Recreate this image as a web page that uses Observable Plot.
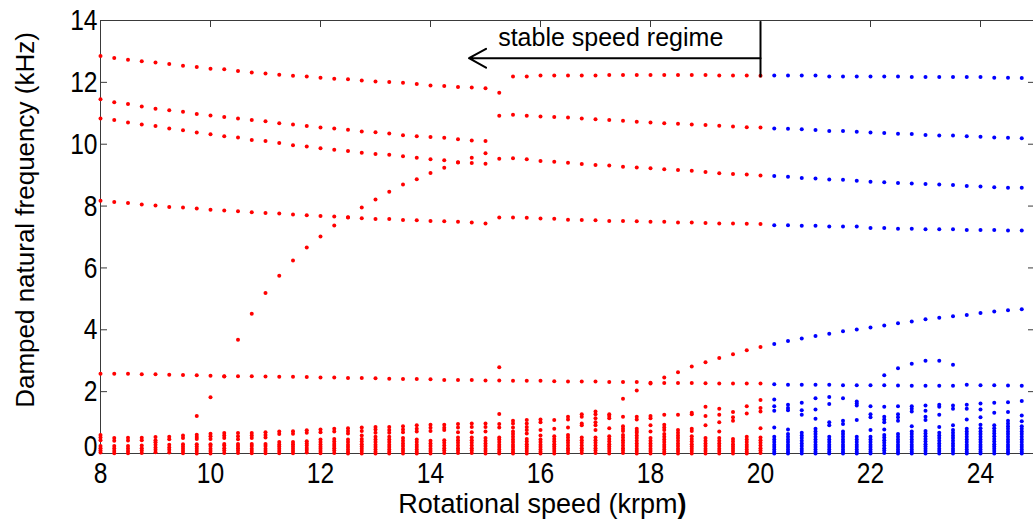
<!DOCTYPE html>
<html>
<head>
<meta charset="utf-8">
<script src="https://cdn.jsdelivr.net/npm/d3@7"></script>
<script src="https://cdn.jsdelivr.net/npm/@observablehq/plot@0.6"></script>
<style>
  html, body { margin: 0; padding: 0; background: #fff; overflow: hidden; }
  svg { display: block; }
</style>
</head>
<body>
<div id="chart"></div>
<script>
// Rotational speeds (krpm) at which the eigenvalues were computed
const speeds = [8,8.25,8.5,8.75,9,9.25,9.5,9.75,10,10.25,10.5,10.75,11,11.25,11.5,11.75,12,12.25,12.5,12.75,13,13.25,13.5,13.75,14,14.25,14.5,14.75,15,15.25,15.5,15.75,16,16.25,16.5,16.75,17,17.25,17.5,17.75,18,18.25,18.5,18.75,19,19.25,19.5,19.75,20,20.25,20.5,20.75,21,21.25,21.5,21.75,22,22.25,22.5,22.75,23,23.25,23.5,23.75,24,24.25,24.5,24.75];

// Damped natural frequencies (kHz), one value per speed
const mode1 = [12.85,12.79,12.73,12.68,12.64,12.59,12.54,12.50,12.44,12.42,12.37,12.32,12.29,12.25,12.21,12.19,12.15,12.12,12.10,12.06,12.03,12.01,11.99,11.95,11.90,11.88,11.85,11.83,11.81,11.66,
  12.19,12.19,12.22,12.22,12.22,12.22,12.22,12.24,12.24,12.24,12.24,12.24,12.24,12.24,12.24,12.22,12.22,12.22,12.21,
  12.22,12.22,12.22,12.22,12.19,12.19,12.19,12.19,12.19,12.19,12.17,12.17,12.17,12.17,12.17,12.17,12.15,12.15,12.14];
const mode2 = [11.45,11.36,11.30,11.22,11.15,11.10,11.05,10.98,10.93,10.88,10.83,10.78,10.74,10.68,10.64,10.59,10.54,10.51,10.47,10.41,10.39,10.35,10.29,10.26,10.23,10.21,10.16,10.12,10.10,
  10.92,10.95,10.92,10.90,10.88,10.86,10.83,10.81,10.78,10.76,10.73,10.70,10.68,10.66,10.64,10.62,10.60,10.57,10.55,10.54,
  10.51,10.50,10.48,10.46,10.43,10.43,10.40,10.38,10.36,10.34,10.33,10.30,10.28,10.28,10.26,10.24,10.22,10.21,10.19];
const mode3 = [10.83,10.78,10.70,10.64,10.59,10.51,10.45,10.38,10.32,10.26,10.22,10.14,10.10,10.04,9.97,9.93,9.87,9.82,9.78,9.72,9.68,9.66,9.61,9.56,9.51,9.48,9.41,9.39,9.37,
  9.53,9.55,9.51,9.46,9.43,9.40,9.36,9.33,9.31,9.27,9.25,9.22,9.19,9.17,9.14,9.10,9.06,9.04,9.02,8.99,
  8.97,8.95,8.91,8.89,8.86,8.85,8.82,8.79,8.77,8.75,8.73,8.71,8.70,8.68,8.65,8.63,8.61,8.59,8.59];
const mode4 = [8.17,8.13,8.10,8.05,8.02,7.97,7.95,7.92,7.88,7.86,7.83,7.80,7.78,7.76,7.73,7.70,7.68,7.66,7.64,7.61,7.58,7.58,7.55,7.54,7.52,7.51,7.49,7.47,7.44,
  7.63,7.63,7.62,7.60,7.59,7.56,7.55,7.54,7.52,7.52,7.51,7.49,7.49,7.47,7.47,7.45,7.44,7.44,7.43,7.42,
  7.38,7.38,7.36,7.36,7.34,7.34,7.34,7.29,7.29,7.27,7.27,7.25,7.25,7.25,7.23,7.23,7.23,7.21,7.21];
const mode6 = [2.58,2.58,2.58,2.56,2.56,2.55,2.54,2.53,2.51,2.50,2.50,2.50,2.49,2.48,2.48,2.47,2.46,2.46,2.44,2.44,2.43,2.42,2.41,2.41,2.40,2.38,2.38,2.38,2.36,
  2.36,2.35,2.35,2.35,2.34,2.33,2.33,2.33,2.31,2.31,2.31,2.29,2.28,2.28,2.28,2.27,2.26,2.26,2.26,2.26,
  2.24,2.22,2.22,2.22,2.22,2.21,2.21,2.21,2.21,2.20,2.19,2.19,2.19,2.19,2.22,2.21,2.21,2.20,2.19];

// Partial branches with their own speeds
const mode5Speeds = [9.75,10,10.25,10.5,10.75,11,11.25,11.5,11.75,12,12.25,12.5,12.75,13,13.25,13.5,13.75,14,14.25,14.5,14.75,15];
const mode5 = [1.21,1.82,2.49,3.68,4.52,5.19,5.75,6.24,6.66,7.02,7.37,7.63,7.95,8.21,8.46,8.70,8.87,9.07,9.24,9.42,9.56,9.71];
const mode7Speeds = [17.5,17.75,18,18.25,18.5,18.75,19,19.25,19.5,19.75,20,20.25,20.5,20.75,21,21.25,21.5,21.75,22,22.25,22.5,22.75,23,23.25,23.5,23.75,24,24.25,24.5,24.75];
const mode7 = [1.77,2.04,2.26,2.46,2.63,2.81,2.95,3.09,3.21,3.34,3.44,3.54,3.64,3.72,3.80,3.87,3.95,4.01,4.07,4.14,4.21,4.27,4.34,4.39,4.44,4.48,4.54,4.59,4.63,4.66];
const mode8Speeds = [22.25,22.5,22.75,23,23.25,23.5];
const mode8 = [2.53,2.76,2.90,3.00,3.00,2.87];
const isolatedSpeeds = [15.25];
const isolatedFreqs = [2.79];

// Low-frequency cluster: list of frequencies (kHz) per speed
const lowCluster = [
  [0.60,0.52,0.43,0.24,0.17,0.10,0.03],
  [0.50,0.41,0.24,0.16,0.08,0.01],
  [0.51,0.42,0.24,0.16,0.08,0.01],
  [0.51,0.43,0.26,0.17,0.10,0.02],
  [0.53,0.43,0.36,0.28,0.19,0.12,0.04],
  [0.54,0.46,0.28,0.19,0.12,0.03],
  [0.58,0.50,0.30,0.23,0.15,0.08,0.01],
  [0.61,0.53,0.47,0.30,0.23,0.15,0.08,0.00],
  [0.64,0.56,0.47,0.30,0.24,0.15,0.08,0.00],
  [0.66,0.58,0.50,0.31,0.26,0.17,0.10,0.02],
  [0.66,0.56,0.46,0.31,0.24,0.17,0.10,0.02],
  [0.66,0.58,0.50,0.31,0.24,0.15,0.08,0.01],
  [0.69,0.60,0.52,0.31,0.24,0.15,0.08,0.01],
  [0.71,0.63,0.37,0.29,0.23,0.15,0.08,0.01],
  [0.72,0.64,0.37,0.30,0.23,0.15,0.08,0.01],
  [0.75,0.67,0.40,0.32,0.26,0.18,0.11,0.03],
  [0.78,0.69,0.45,0.37,0.29,0.22,0.15,0.08,0.01],
  [0.80,0.71,0.47,0.39,0.31,0.24,0.17,0.10,0.02],
  [0.82,0.73,0.65,0.45,0.37,0.28,0.21,0.13,0.06,0.00],
  [0.84,0.73,0.58,0.47,0.39,0.30,0.23,0.15,0.08,0.00],
  [0.86,0.78,0.67,0.54,0.45,0.37,0.28,0.21,0.13,0.06,0.00],
  [0.86,0.76,0.67,0.54,0.45,0.37,0.28,0.21,0.13,0.06,0.00],
  [0.88,0.78,0.69,0.50,0.41,0.32,0.24,0.15,0.08,0.00],
  [0.91,0.80,0.71,0.45,0.37,0.28,0.21,0.13,0.06,0.00],
  [0.93,0.83,0.73,0.41,0.32,0.24,0.15,0.08,0.00],
  [0.93,0.83,0.76,0.43,0.35,0.26,0.17,0.10,0.02],
  [0.95,0.84,0.69,0.52,0.43,0.35,0.26,0.17,0.10,0.02],
  [0.97,0.86,0.69,0.52,0.43,0.35,0.26,0.17,0.10,0.02],
  [0.97,0.86,0.71,0.50,0.41,0.32,0.24,0.15,0.08,0.00],
  [1.28,0.95,0.84,0.52,0.45,0.37,0.28,0.21,0.13,0.06,0.00],
  [1.06,0.97,0.84,0.71,0.63,0.54,0.45,0.37,0.28,0.21,0.13,0.06,0.00],
  [1.08,0.97,0.86,0.76,0.65,0.47,0.39,0.30,0.23,0.15,0.08,0.00],
  [1.10,1.01,0.76,0.58,0.45,0.37,0.28,0.21,0.13,0.06,0.00],
  [1.08,0.80,0.56,0.47,0.39,0.30,0.23,0.15,0.08,0.00],
  [1.19,1.10,0.84,0.60,0.52,0.43,0.35,0.26,0.17,0.10,0.02],
  [1.27,1.19,0.97,0.91,0.52,0.43,0.35,0.26,0.17,0.10,0.02],
  [1.36,1.27,1.14,1.01,0.91,0.76,0.52,0.43,0.35,0.26,0.17,0.10,0.02],
  [1.27,1.21,1.14,0.82,0.56,0.47,0.39,0.30,0.23,0.15,0.08,0.00],
  [1.19,0.88,0.80,0.73,0.60,0.52,0.43,0.35,0.26,0.17,0.10,0.02],
  [1.19,1.10,0.80,0.73,0.67,0.58,0.50,0.41,0.32,0.24,0.15,0.08,0.00],
  [1.21,1.14,0.91,0.71,0.50,0.41,0.32,0.24,0.15,0.08,0.00],
  [1.25,0.93,0.84,0.76,0.63,0.54,0.45,0.37,0.28,0.21,0.13,0.06,0.00],
  [1.25,0.76,0.67,0.58,0.50,0.41,0.32,0.24,0.15,0.08,0.00],
  [1.32,1.27,0.80,0.73,0.56,0.47,0.39,0.30,0.23,0.15,0.08,0.00],
  [1.51,1.21,0.91,0.50,0.41,0.32,0.24,0.15,0.08,0.00],
  [1.45,1.25,1.01,0.71,0.50,0.41,0.32,0.24,0.15,0.08,0.00],
  [1.34,1.17,1.06,0.47,0.39,0.30,0.23,0.15,0.08,0.00],
  [1.53,1.29,0.54,0.45,0.37,0.28,0.21,0.13,0.06,0.00],
  [1.73,1.47,1.36,0.82,0.52,0.43,0.35,0.26,0.17,0.10,0.02],
  [1.75,1.53,1.38,0.84,0.54,0.45,0.37,0.28,0.21,0.13,0.06,0.00],
  [1.58,1.47,1.40,0.78,0.63,0.54,0.45,0.37,0.28,0.21,0.13,0.06,0.00],
  [1.64,1.40,1.25,0.67,0.58,0.50,0.41,0.32,0.24,0.15,0.08,0.00],
  [1.79,1.42,1.12,0.80,0.71,0.63,0.54,0.45,0.37,0.28,0.21,0.13,0.06,0.00],
  [1.83,1.60,1.01,0.91,0.54,0.45,0.37,0.28,0.21,0.13,0.06,0.00],
  [1.79,1.06,0.95,0.71,0.63,0.54,0.45,0.37,0.28,0.21,0.13,0.06,0.00],
  [1.68,1.62,1.55,1.08,0.54,0.45,0.37,0.28,0.21,0.13,0.06,0.00],
  [1.53,1.27,1.17,0.76,0.54,0.45,0.37,0.28,0.21,0.13,0.06,0.00],
  [1.51,1.19,1.10,1.01,0.78,0.60,0.52,0.43,0.35,0.26,0.17,0.10,0.02],
  [1.53,1.27,1.17,1.06,0.63,0.54,0.45,0.37,0.28,0.21,0.13,0.06,0.00],
  [1.53,1.45,1.36,0.88,0.71,0.63,0.54,0.45,0.37,0.28,0.21,0.13,0.06,0.00],
  [1.55,1.38,1.19,1.08,0.73,0.65,0.56,0.47,0.39,0.30,0.23,0.15,0.08,0.00],
  [1.58,1.51,1.25,0.86,0.67,0.58,0.50,0.41,0.32,0.24,0.15,0.08,0.00],
  [1.55,1.45,0.91,0.76,0.67,0.58,0.50,0.41,0.32,0.24,0.15,0.08,0.00],
  [1.58,1.45,1.10,0.80,0.71,0.63,0.54,0.45,0.37,0.28,0.21,0.13,0.06,0.00],
  [1.62,1.42,1.17,0.93,0.82,0.71,0.63,0.54,0.45,0.37,0.28,0.21,0.13,0.06,0.00],
  [1.64,1.32,0.91,0.82,0.73,0.65,0.56,0.47,0.39,0.30,0.23,0.15,0.08,0.00],
  [1.66,1.34,1.06,0.97,0.88,0.80,0.71,0.63,0.54,0.45,0.37,0.28,0.21,0.13,0.06,0.00],
  [1.70,1.23,1.04,0.88,0.80,0.71,0.63,0.54,0.45,0.37,0.28,0.21,0.13,0.06,0.00]
];

// Axes
const xTicks = [8,10,12,14,16,18,20,22,24];
const yTicks = [0,2,4,6,8,10,12,14];
const xLabel = "Rotational speed (krpm";
const xLabelEnd = ")";
const yLabel = "Damped natural frequency (kHz)";

// Stability limit & annotation
const stableLimit = 20;
const regimeLabel = "stable speed regime";
const regimeLabelAt = [15.23, 13.42];
const regimeArrow = [{x1: 20, y1: 12.78, x2: 14.70, y2: 12.78}];
const regimeBar = [{x: 20, y1: 12.15, y2: 13.96}];

// ---- build the point table ----
const points = [];
function add(xs, ys) {
  ys.forEach((v, i) => { if (v != null) points.push({speed: xs[i], freq: v}); });
}
[mode1, mode2, mode3, mode4, mode6].forEach(m => add(speeds, m));
add(mode5Speeds, mode5);
add(mode7Speeds, mode7);
add(mode8Speeds, mode8);
add(isolatedSpeeds, isolatedFreqs);
lowCluster.forEach((col, i) => col.forEach(v => points.push({speed: speeds[i], freq: v})));

const FONT = "'Liberation Sans', Arial, Helvetica, sans-serif";
const AX = "#3a3a3a";
const frameH = 526 - 20 - 73;
const frameW = 1033 + 2 - 100;

const chart = Plot.plot({
  width: 1033,
  height: 526,
  marginLeft: 100,
  marginRight: -2,
  marginTop: 20,
  marginBottom: 73,
  x: {domain: [8, 25]},
  y: {domain: [0, 14]},
  color: {domain: ["stable", "unstable"], range: ["#ff0000", "#0000ff"]},
  style: {fontFamily: FONT, color: "#000", background: "#fff", overflow: "hidden"},
  marks: [
    Plot.frame({stroke: AX}),
    Plot.tickX(xTicks, {x: d => d, insetTop: frameH - 7, stroke: AX}),
    Plot.tickX(xTicks, {x: d => d, insetBottom: frameH - 7, stroke: AX}),
    Plot.tickY(yTicks, {y: d => d, insetRight: frameW - 7, stroke: AX}),
    Plot.tickY(yTicks, {y: d => d, insetLeft: frameW - 7, stroke: AX}),
    Plot.dot(points, {x: "speed", y: "freq", r: 2, stroke: null,
      fill: d => d.speed <= stableLimit ? "stable" : "unstable"}),
    Plot.axisX(xTicks, {anchor: "bottom", tickSize: 0, tickPadding: 8, fontSize: 30, label: null, fill: "#000"}),
    Plot.axisY(yTicks, {anchor: "left", tickSize: 0, tickPadding: 3, fontSize: 30, label: null, fill: "#000"}),
    Plot.text([xLabel], {frameAnchor: "bottom", text: d => d, textAnchor: "end", lineAnchor: "middle", dx: 109.5, dy: 51, fontSize: 27, fill: "#000"}),
    Plot.text([xLabelEnd], {frameAnchor: "bottom", text: d => d, textAnchor: "start", lineAnchor: "middle", dx: 109.5, dy: 51, fontSize: 27, fontWeight: "bold", fill: "#000"}),
    Plot.text([yLabel], {frameAnchor: "left", text: d => d, textAnchor: "middle", lineAnchor: "middle", rotate: -90, dx: -75, dy: -17, fontSize: 26, fill: "#000"}),
    Plot.ruleX(regimeBar, {x: "x", y1: "y1", y2: "y2", stroke: "#000", strokeWidth: 2}),
    Plot.arrow(regimeArrow, {x1: "x1", y1: "y1", x2: "x2", y2: "y2", stroke: "#000", strokeWidth: 2, headLength: 14.6, headAngle: 58}),
    Plot.text([regimeLabel], {x: regimeLabelAt[0], y: regimeLabelAt[1], text: d => d, textAnchor: "start", fontSize: 25, fill: "#000"})
  ]
});

// Tick labels in the reference are tall and narrow: compress them horizontally around their anchor.
chart.querySelectorAll('g[aria-label="x-axis tick label"] text, g[aria-label="y-axis tick label"] text').forEach(t => {
  let tr = t.getAttribute("transform") || "";
  const tx = t.getAttribute("x");
  if (tx != null && tx !== "" && !isNaN(+tx) && +tx !== 0) {
    tr = `translate(${tx},0) ` + tr;
    t.setAttribute("x", 0);
  }
  // the "0" of the y axis sits slightly raised in the reference, clear of the "8" below it
  const raise = t.closest('g[aria-label="y-axis tick label"]') && t.textContent.trim() === "0" ? " translate(0,-7)" : "";
  t.setAttribute("transform", (tr + raise + " scale(0.82,1)").trim());
});
document.getElementById("chart").appendChild(chart);
</script>
</body>
</html>
